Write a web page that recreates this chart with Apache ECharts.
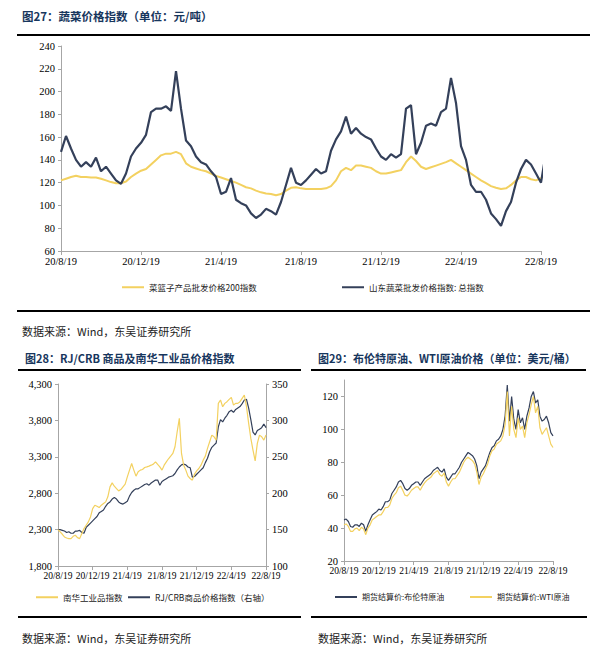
<!DOCTYPE html>
<html><head><meta charset="utf-8">
<script src="https://cdn.jsdelivr.net/npm/echarts@6/dist/echarts.min.js"></script>
<style>html,body{margin:0;padding:0;background:#fff}#c{width:601px;height:666px}</style>
</head><body><div id="c"></div>
<script>
// ---- shared x tick labels (one label every 16 points = 4 months, 4 points per month)
const xTickLabels = ['20/8/19','20/12/19','21/4/19','21/8/19','21/12/19','22/4/19','22/8/19'];

// ---- Fig 27: vegetable price indices
const vegBasket200 = [122,123.5,125,126,125,125,124.5,124.5,123.5,122,120.5,119.5,119.5,121,125,128,130.5,132,136,140,144,145.5,145.5,147,145,137,134,132.5,131,130,
128,126,124.5,123,121.5,120,118,116,115,113,111.5,110.5,110,109,110,113,115.5,116,115,114.5,114.5,114.5,114.5,115,117,122,130,133,131,135,135,134,133,
130,128,128,129,130,131,138,143,139,134,132,133.5,135,136.5,138,140,137,134,131,128,125,122,119.5,117,115.5,114.5,115,118,122,125,125,123,122,124];
const shandongVeg = [147,161,150,140,134,138,134,142,130,134,128,122,119,128,143,150,155,162,182,185,185,187,183,218,185,157,152,143,138,136,
130,125,110,112,124,105,102,100,93,89,92,97,95,92,103,118,133,120,118,122,127,132,128,130,148,158,165,178,163,168,163,160,158,
150,143,140,145,142,145,185,188,145,155,170,172,170,182,185,212,190,152,140,118,112,112,105,93,88,82,95,103,120,132,140,136,128,120,147];

// ---- Fig 28: Nanhua industrial index (left) and RJ/CRB (right)
const nanhuaIndustrial = [2300,2268,2236,2199,2185,2176,2176,2208,2222,2190,
2176,2245,2314,2360,2406,2474,2589,2635,2621,2603,
2635,2658,2681,2750,2887,2942,2896,2864,2832,2850,
2887,2924,3025,3117,3208,3117,3034,3094,3117,3126,
3153,3162,3172,3185,3199,3231,3195,3162,3117,3185,
3231,3273,3309,3346,3438,3644,3828,3346,3185,3117,
3034,3002,2979,3061,3107,3139,3185,3254,3309,3415,
3506,3598,3575,3529,4034,4080,3988,4034,4057,4089,
4117,4011,4034,4034,4057,4103,4149,3988,3759,3552,
3392,3245,3484,3598,3575,3529,3598];
const rjCrb = [150,150,149,148,146,147,145,145,148,148,
149,146,145,153,156,159,162,165,168,173,
175,177,182,186,188,192,194,192,188,186,
185,187,189,196,201,204,206,206,208,210,
212,213,211,214,216,218,218,211,216,218,
220,222,223,224,227,232,236,239,240,239,
236,235,222,223,226,229,232,235,242,248,
257,263,266,269,291,301,298,303,307,312,
314,311,315,317,319,323,328,329,317,301,
284,280,286,288,290,295,290];

// ---- Fig 29: Brent and WTI (USD/bbl)
const brent = [45,45.5,44,41,40.5,42,42,41,43,42,
38,42,45,48,49,50,51.5,51,53,56,
56,57,61,63,65,68,69,67,64,63,
64,66,67,68,68,66,68,70,71,72,
73,75,76,77,75,74,76,71,69,71,
73,73,75,77,80,82,84,86,85,84,
82,78,70,74,76,78,82,86,89,90,
93,94,96,100,108,127,105,120,106,100,
112,104,107,100,108,113,120,123,116,118,
108,105,106,108,104,98,96];
const wti = [42,42.5,41,38,38,39.5,40,38.5,40.5,39.5,
36,40,42,45,46,47,48,48,50,52.5,
52.5,54,58,60,61.5,64.5,65.5,63,60,59.5,
61,63,64,65,65,63,65.5,67.5,69,70,
71,73,74,75,72.5,71.5,73.5,68,65.5,68,
70,70,72,74,77,80,82,83,82,81,
79,74,66.5,71,73,76,79,84,87,88,
91,92,93,96,103,123,96,114,100,95,
107,100,102,95,104,109,115,120,110,114,
101,97,99,101,96,91,89];

const names = {
  veg1: '菜篮子产品批发价格200指数', veg2: '山东蔬菜批发价格指数: 总指数',
  nh: '南华工业品指数', crb: 'RJ/CRB商品价格指数（右轴）',
  brent: '期货结算价:布伦特原油', wti: '期货结算价:WTI原油'
};

const chart = echarts.init(document.getElementById('c'), null, {renderer: 'svg'});
const pairs = arr => arr.map((v, i) => [i, v]);
const serif = '"Liberation Serif","Times New Roman",serif';
const cjk = '"Noto Sans CJK SC","Noto Sans",sans-serif';
const axisGray = '#A6A6A6';
const dark = '#34405A';
const gold = '#F3D160';
const titleColor = '#17365D';

function xAx(gridIndex, fontSize) {
  return {
    type: 'value', gridIndex, min: 0, max: 96, interval: 16,
    axisLine: {show: true, onZero: false, lineStyle: {color: axisGray}},
    axisTick: {show: true, length: 4, lineStyle: {color: axisGray}},
    splitLine: {show: false},
    axisLabel: {formatter: v => xTickLabels[v / 16] || '', fontFamily: serif, fontSize, color: '#000', margin: 5}
  };
}
function yAx(gridIndex, min, max, interval, extra) {
  return Object.assign({
    type: 'value', gridIndex, min, max, interval,
    axisLine: {show: true, lineStyle: {color: axisGray}},
    axisTick: {show: true, length: 3, lineStyle: {color: axisGray}},
    splitLine: {show: false},
    axisLabel: {fontFamily: serif, fontSize: 10.5, color: '#000', margin: 6}
  }, extra || {});
}
function legendAt(name, left, top, fs) {
  return {data: [name], left, top, icon: 'rect', itemWidth: 22, itemHeight: 2, itemGap: 0, padding: 0,
    textStyle: {fontFamily: cjk, fontSize: fs || 8.5, color: '#222'}};
}
function line(name, data, xi, yi, color, width, z) {
  return {type: 'line', name, data: pairs(data), xAxisIndex: xi, yAxisIndex: yi, showSymbol: false, symbol: 'none',
    lineStyle: {color, width}, itemStyle: {color}, z, animation: false};
}
function txt(text, x, y, opts) {
  return {type: 'text', left: x, top: y, style: Object.assign({text, fill: '#222', font: '11px ' + cjk}, opts || {})};
}
function bar(x, y, w, h) {
  return {type: 'rect', shape: {x, y, width: w, height: h}, style: {fill: '#000'}};
}

chart.setOption({
  animation: false,
  grid: [
    {left: 61, right: 60, top: 46, bottom: 415},
    {left: 58, right: 335, top: 384, bottom: 100},
    {left: 344, right: 48, top: 380, bottom: 105}
  ],
  xAxis: [xAx(0, 10.5), xAx(1, 9.5), xAx(2, 9.5)],
  yAxis: [
    yAx(0, 60, 240, 20),
    yAx(1, 1800, 4300, 500, {axisLabel: {fontFamily: serif, fontSize: 10.5, color: '#000', margin: 6, formatter: v => v.toLocaleString('en-US')}}),
    yAx(1, 100, 350, 50, {position: 'right'}),
    yAx(2, 20, 130, 20, {axisLabel: {fontFamily: serif, fontSize: 10.5, color: '#000', margin: 6, showMaxLabel: false}})
  ],
  legend: [
    legendAt(names.veg1, 122, 283),
    legendAt(names.veg2, 342, 283),
    legendAt(names.nh, 36, 593),
    legendAt(names.crb, 128, 593),
    legendAt(names.brent, 335, 593, 8),
    legendAt(names.wti, 470, 593, 8)
  ],
  series: [
    line(names.veg1, vegBasket200, 0, 0, gold, 2, 2),
    line(names.veg2, shandongVeg, 0, 0, dark, 2.2, 3),
    line(names.nh, nanhuaIndustrial, 1, 1, gold, 1.2, 3),
    line(names.crb, rjCrb, 1, 2, dark, 1.2, 2),
    line(names.brent, brent, 2, 3, dark, 1.2, 2),
    line(names.wti, wti, 2, 3, gold, 1.2, 3)
  ],
  graphic: [
    txt('图27：蔬菜价格指数（单位：元/吨）', 22, 10, {fill: titleColor, font: 'bold 11.5px ' + cjk}),
    bar(17, 34, 573, 2),
    bar(17, 310, 573, 2),
    txt('数据来源：Wind，东吴证券研究所', 22, 325),
    txt('图28：RJ/CRB 商品及南华工业品价格指数', 25, 352, {fill: titleColor, font: 'bold 11px ' + cjk}),
    bar(18, 369, 283, 2),
    txt('图29：布伦特原油、WTI原油价格（单位：美元/桶）', 318, 352, {fill: titleColor, font: 'bold 11px ' + cjk}),
    bar(311, 369, 275, 2),
    bar(18, 616, 283, 2),
    bar(311, 616, 276, 2),
    txt('数据来源：Wind，东吴证券研究所', 22, 632),
    txt('数据来源：Wind，东吴证券研究所', 318, 632)
  ]
});
</script></body></html>
